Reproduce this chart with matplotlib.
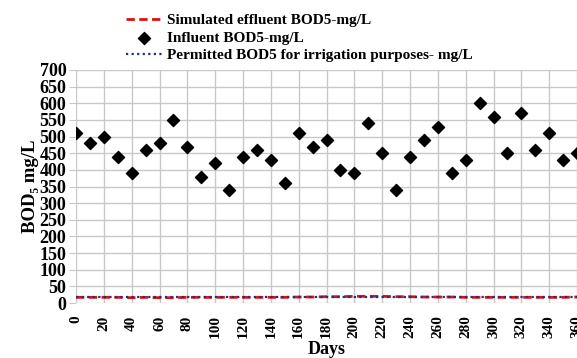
import matplotlib
matplotlib.use("Agg")
import matplotlib.pyplot as plt
import numpy as np

# sampling days
days = list(range(0, 361, 10))

# influent BOD5 (mg/L)
influent = [510, 480, 500, 440, 390, 460, 480, 550, 470, 380,
            420, 340, 440, 460, 430, 360, 510, 470, 490, 400,
            390, 540, 450, 340, 440, 490, 530, 390, 430, 600,
            560, 450, 570, 460, 510, 430, 450]

# simulated effluent BOD5 (mg/L)
effluent = [17, 17, 17, 17, 16, 17, 16, 16, 17, 17,
            17, 17, 17, 17, 17, 17, 18, 18, 19, 19,
            20, 20, 20, 19, 19, 18, 18, 18, 17, 17,
            17, 17, 17, 17, 17, 17, 18]

# permitted BOD5 for irrigation (mg/L)
permitted = [17] * len(days)

y_ticks = list(range(0, 701, 50))
x_ticks = list(range(0, 361, 20))

plt.rcParams['font.family'] = ['Liberation Serif', 'DejaVu Serif']
plt.rcParams['font.weight'] = 'bold'

fig = plt.figure(figsize=(5.77, 3.58), dpi=100)
ax = fig.add_axes([76 / 577, 1 - 303 / 358, 1 - 76 / 577, (303 - 70) / 358])

ax.plot(days, effluent, color='#e01010', ls=(0, (3, 1.6)), lw=2.0,
        label='Simulated effluent BOD5-mg/L', zorder=3)
ax.scatter(days, influent, marker='D', s=38, color='black',
           label='Influent BOD5-mg/L', zorder=4)
ax.plot(days, permitted, color='#1a2f8a', ls=(0, (1, 1.5)), lw=1.6,
        label='Permitted BOD5 for irrigation purposes- mg/L', zorder=3)

ax.set_xlim(0, 360)
ax.set_ylim(0, 700)
ax.set_xticks(x_ticks)
ax.set_yticks(y_ticks)
ax.set_xticklabels([str(v) for v in x_ticks], rotation=90, fontsize=11, fontweight='bold')
ax.set_yticklabels([str(v) for v in y_ticks], fontsize=13, fontweight='bold')
ax.tick_params(axis='y', length=5, color='#c8c8c8', pad=2)
ax.tick_params(axis='x', length=0, pad=9)

ax.grid(True, color='#c8c8c8', lw=1.0)
ax.set_axisbelow(True)
for s in ax.spines.values():
    s.set_visible(False)

ax.set_ylabel('BOD₅ mg/L', fontsize=13.5, fontweight='bold', labelpad=0)
ax.set_xlabel('Days', fontsize=13, fontweight='bold', va='center')
ax.xaxis.set_label_coords(0.5, -(349 - 303) / 233)

fig.legend(loc='upper left', bbox_to_anchor=(112 / 577, 1.0), frameon=False,
           handlelength=2.4, handletextpad=0.3, labelspacing=0.25,
           borderaxespad=0.5, prop={'weight': 'bold', 'size': 11})

fig.savefig('out.png', dpi=100)
